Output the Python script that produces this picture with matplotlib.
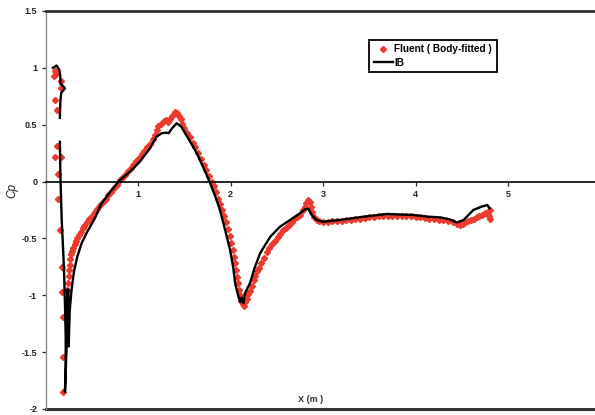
import numpy as np
import matplotlib
matplotlib.use('Agg')
import matplotlib.pyplot as plt

# Surface pressure coefficient along the body, Fluent (body-fitted) vs IB
fluent_x = [0.10, 0.09, 0.11, 0.17, 0.17, 0.10, 0.12, 0.12, 0.10, 0.17, 0.14, 0.14, 0.16,
            0.175, 0.175, 0.185, 0.185, 0.185,
            0.235, 0.24, 0.25, 0.255, 0.265, 0.27, 0.28, 0.29, 0.30, 0.315, 0.33, 0.345,
            0.36, 0.38, 0.40, 0.42, 0.445, 0.47, 0.50, 0.53, 0.56, 0.59, 0.62, 0.65,
            0.68, 0.71, 0.74, 0.77, 0.80, 0.83, 0.86, 0.89, 0.92, 0.95, 0.98, 1.01,
            1.04, 1.07, 1.10, 1.13, 1.16, 1.18, 1.20, 1.22, 1.25, 1.28, 1.30, 1.32,
            1.35, 1.37, 1.40, 1.42, 1.44, 1.46, 1.48, 1.50, 1.53, 1.56, 1.59, 1.62,
            1.65, 1.68, 1.71, 1.74, 1.77, 1.80, 1.82, 1.845, 1.87, 1.89, 1.91, 1.93,
            1.95, 1.97, 1.99, 2.01, 2.025, 2.04, 2.05, 2.06, 2.07, 2.08, 2.09, 2.10,
            2.115, 2.13, 2.145, 2.16, 2.175, 2.19, 2.21, 2.23, 2.25, 2.27, 2.29, 2.31,
            2.33, 2.36, 2.39, 2.42, 2.45, 2.48, 2.51, 2.54, 2.57, 2.60, 2.63, 2.66,
            2.69, 2.72, 2.75, 2.78, 2.80, 2.82, 2.84, 2.855, 2.87, 2.885, 2.90, 2.93,
            2.96, 3.00, 3.05, 3.10, 3.15, 3.20, 3.25, 3.30, 3.35, 3.40, 3.45, 3.50,
            3.55, 3.60, 3.65, 3.70, 3.75, 3.80, 3.85, 3.90, 3.95, 4.00, 4.05, 4.10,
            4.15, 4.20, 4.25, 4.30, 4.35, 4.40, 4.45, 4.48, 4.51, 4.54, 4.57, 4.60,
            4.63, 4.66, 4.69, 4.72, 4.75, 4.78, 4.79, 4.80, 4.80]
fluent_cp = [0.97, 0.93, 0.95, 0.88, 0.82, 0.72, 0.63, 0.31, 0.22, 0.22, 0.07, -0.15, -0.43,
             -0.75, -0.97, -1.19, -1.54, -1.85,
             -0.95, -0.89, -0.83, -0.78, -0.73, -0.68, -0.64, -0.61, -0.58, -0.55, -0.52, -0.50,
             -0.47, -0.44, -0.41, -0.39, -0.36, -0.33, -0.30, -0.27, -0.24, -0.21, -0.18, -0.15,
             -0.12, -0.09, -0.06, -0.03, 0.01, 0.03, 0.06, 0.09, 0.12, 0.15, 0.18, 0.21,
             0.24, 0.27, 0.30, 0.33, 0.37, 0.41, 0.45, 0.49, 0.51, 0.53, 0.54, 0.52,
             0.55, 0.58, 0.61, 0.60, 0.58, 0.55, 0.51, 0.47, 0.43, 0.39, 0.34, 0.30,
             0.25, 0.20, 0.15, 0.10, 0.05, 0.00, -0.04, -0.09, -0.15, -0.20, -0.25, -0.30,
             -0.36, -0.42, -0.48, -0.54, -0.60, -0.66, -0.72, -0.78, -0.84, -0.89, -0.95, -1.00,
             -1.05, -1.08, -1.09, -1.06, -1.03, -0.99, -0.96, -0.92, -0.87, -0.83, -0.79, -0.76,
             -0.72, -0.67, -0.62, -0.58, -0.55, -0.52, -0.49, -0.46, -0.43, -0.41, -0.38, -0.36,
             -0.33, -0.31, -0.29, -0.25, -0.22, -0.19, -0.16, -0.18, -0.22, -0.27, -0.31, -0.34,
             -0.35, -0.36, -0.355, -0.35, -0.35, -0.345, -0.34, -0.335, -0.33, -0.325, -0.32, -0.315,
             -0.31, -0.305, -0.30, -0.30, -0.30, -0.30, -0.30, -0.305, -0.305, -0.31, -0.315, -0.32,
             -0.325, -0.33, -0.335, -0.34, -0.35, -0.36, -0.375, -0.38, -0.375, -0.36, -0.35, -0.34,
             -0.33, -0.315, -0.30, -0.29, -0.28, -0.27, -0.30, -0.33, -0.25]

ib_x = [0.08, 0.10, 0.12, 0.15, 0.16, 0.16, 0.19, 0.21, 0.19, 0.17, 0.16, 0.155, np.nan,
        0.155, 0.16, 0.165, 0.175, 0.19, 0.20, 0.21, 0.218, 0.218, 0.21,
        0.228, 0.232, 0.235, 0.248, 0.25, 0.262, 0.283, 0.308, 0.344, 0.391, 0.452, 0.535,
        0.60, 0.70, 0.806, 0.914, 1.02, 1.13, 1.20, 1.256, 1.30, 1.33, 1.37, 1.418,
        1.47, 1.55, 1.635, 1.72, 1.78, 1.84, 1.886, 1.94, 1.995, 2.03, 2.05, 2.085,
        2.105, 2.12, 2.14, 2.157, 2.21, 2.26, 2.32, 2.38, 2.43, 2.535, 2.643, 2.751,
        2.805, 2.84, 2.878, 2.93, 3.00, 3.18, 3.436, 3.69, 3.976, 4.138, 4.265, 4.37,
        4.445, 4.52, 4.625, 4.716, 4.776, 4.80]
ib_cp = [1.00, 1.01, 1.02, 0.98, 0.93, 0.86, 0.84, 0.82, 0.80, 0.78, 0.70, 0.56, np.nan,
         0.35, 0.10, -0.07, -0.34, -0.59, -0.78, -1.07, -1.36, -1.66, -1.85,
         -1.45, -1.13, -0.95, -0.95, -1.45, -1.13, -0.94, -0.79, -0.66, -0.54, -0.44, -0.32,
         -0.20, -0.09, 0.014, 0.087, 0.175, 0.293, 0.395, 0.425, 0.43, 0.425, 0.47, 0.513,
         0.48, 0.37, 0.25, 0.10, -0.015, -0.14, -0.25, -0.42, -0.60, -0.76, -0.895, -1.01,
         -1.06, -1.02, -1.07, -0.98, -0.895, -0.76, -0.63, -0.55, -0.485, -0.397, -0.338, -0.279,
         -0.244, -0.24, -0.294, -0.338, -0.353, -0.338, -0.309, -0.285, -0.294, -0.309, -0.315, -0.332,
         -0.36, -0.338, -0.25, -0.22, -0.206, -0.235]

plt.rcParams['font.family'] = ['Liberation Sans', 'DejaVu Sans']

fig = plt.figure(figsize=(5.95, 4.15), dpi=100)
# axes runs a little past the right edge, like the original page
ax = fig.add_axes([0.0765, 0.0145, 0.9328, 0.959])

ax.plot(fluent_x, fluent_cp, ls='none', marker='D', ms=3.1, color='#ec3a2e',
        mec='#ec3a2e', label='Fluent ( Body-fitted )', zorder=2)
ax.plot(ib_x, ib_cp, color='black', lw=1.7, label='IB', zorder=3)

ax.set_xlim(0, 6)
ax.set_ylim(-2, 1.5)
ax.set_xticks([1, 2, 3, 4, 5])
ax.set_yticks([-2, -1.5, -1, -0.5, 0, 0.5, 1, 1.5])
ax.set_yticklabels(['-2', '-1.5', '-1', '-0.5', '0', '0.5', '1', '1.5'])

# x axis sits on Cp = 0, frame drawn top and bottom
ax.spines['bottom'].set_position(('data', 0))
ax.spines['bottom'].set_linewidth(1.2)
ax.spines['right'].set_visible(False)
ax.spines['top'].set_linewidth(2.0)
ax.spines['top'].set_color('#333333')
ax.spines['left'].set_linewidth(1.0)
ax.spines['left'].set_color('#8a8a8a')
ax.plot([0, 1], [0, 0], transform=ax.transAxes, color='#333333', lw=2.2, clip_on=False)

ax.tick_params(axis='both', direction='out', length=3, width=0.9, labelsize=6.5,
               colors='#222222', pad=3)
for lab in ax.get_xticklabels() + ax.get_yticklabels():
    lab.set_fontweight('bold')

fig.text(12 / 595, 0.54, 'Cp', rotation=90, fontsize=8.5, style='italic',
         ha='center', va='center', color='#222222')
fig.text(311 / 595, 16 / 415, 'X (m )', fontsize=6.5, fontweight='bold',
         ha='center', va='center', color='#333333')

leg = ax.legend(loc='upper left', bbox_to_anchor=(369 / 595, 1 - 40 / 415),
                bbox_transform=fig.transFigure, numpoints=1, fancybox=False,
                framealpha=1, edgecolor='black', handlelength=1.9, handletextpad=0.2,
                borderpad=0.45, labelspacing=0.3, borderaxespad=0,
                prop={'size': 7.2, 'weight': 'bold'})
leg.get_frame().set_linewidth(1.3)

fig.savefig('out.png', dpi=100, facecolor='white')
